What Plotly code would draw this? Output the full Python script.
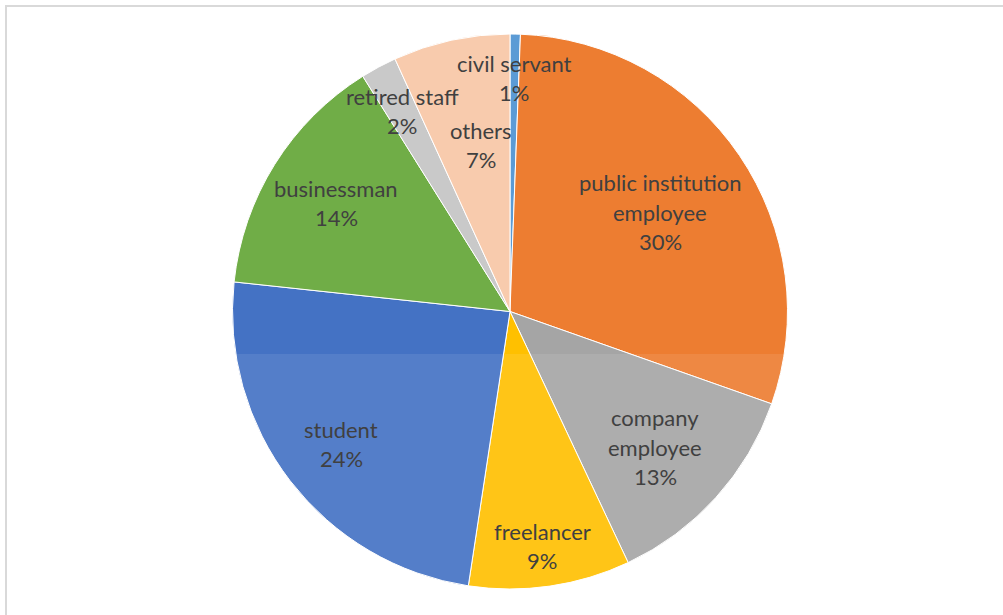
import plotly.graph_objects as go

categories = ["civil servant", "public institution employee", "company employee", "freelancer",
              "student", "businessman", "retired staff", "others"]
values = [0.6, 29.8, 12.6, 9.4, 24.3, 14.4, 2.1, 6.8]
colors = ["#5B9BD5", "#ED7D31", "#A5A5A5", "#FFC000", "#4472C4", "#70AD47", "#C9C9C9", "#F8CBAD"]
pct_labels = ["1%", "30%", "13%", "9%", "24%", "14%", "2%", "7%"]
label_lines = [["civil servant"], ["public institution", "employee"], ["company", "employee"],
               ["freelancer"], ["student"], ["businessman"], ["retired staff"], ["others"]]
# label block centres in pixels (x, y of block centre)
label_pos = [(514, 78), (660, 212), (655, 447), (542, 546), (341, 444), (336, 203), (402, 111), (481, 145)]

W, H = 1003, 615
fig = go.Figure(go.Pie(
    labels=categories, values=values, sort=False, direction="clockwise", rotation=0,
    marker=dict(colors=colors, line=dict(color="white", width=1)),
    textinfo="none", hoverinfo="label+percent", showlegend=False,
    domain=dict(x=[232 / W, 788 / W], y=[(H - 589) / H, (H - 34) / H]),
))

LINE = 29.5
for lines, pct, (cx, cy) in zip(label_lines, pct_labels, label_pos):
    allines = lines + [pct]
    n = len(allines)
    for i, t in enumerate(allines):
        y = cy + (i - (n - 1) / 2) * LINE
        fig.add_annotation(x=cx / W, y=1 - y / H, xref="paper", yref="paper", text=t,
                           showarrow=False, xanchor="center", yanchor="middle",
                           font=dict(family="Lato", size=22, color="#404040"))

# frame border
fig.add_shape(type="rect", xref="paper", yref="paper", x0=6 / W, x1=1.05, y0=-0.05, y1=1 - 6 / H,
              line=dict(color="#D9D9D9", width=2), fillcolor="rgba(0,0,0,0)", layer="below")
# faint watermark wash
fig.add_shape(type="rect", xref="paper", yref="paper", x0=113 / W, x1=893 / W, y0=0, y1=1 - 354 / H,
              line=dict(width=0), fillcolor="rgba(255,255,255,0.09)", layer="above")

fig.update_layout(width=W, height=H, margin=dict(l=0, r=0, t=0, b=0),
                  paper_bgcolor="white", plot_bgcolor="white")
fig.write_html("out.html")
